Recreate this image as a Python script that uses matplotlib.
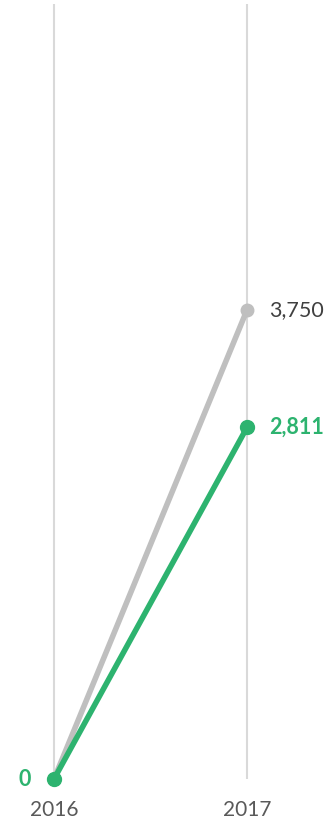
import matplotlib.pyplot as plt

# slope chart: two series, 2016 -> 2017
years = ["2016", "2017"]
target = [0, 3750]
actual = [0, 2811]

GREY = "#bfbfbf"
GREEN = "#2db36f"
GRID = "#d9d9d9"
TEXT = "#595959"

plt.rcParams["font.family"] = ["Lato", "DejaVu Sans"]

fig = plt.figure(figsize=(3.24, 8.24), dpi=100)
ax = fig.add_axes([0, 0, 1, 1])

xs = list(range(len(years)))
grid_top = 6195

ax.vlines(xs, 0, grid_top, color=GRID, linewidth=1.5, zorder=0)

ax.plot(xs, target, color=GREY, linewidth=4, marker="o", markersize=9,
        solid_capstyle="round", zorder=2)
ax.plot(xs, actual, color=GREEN, linewidth=4, marker="o", markersize=10,
        solid_capstyle="round", zorder=3)

# end-point value labels
ax.annotate(f"{target[-1]:,}", xy=(xs[-1], target[-1]), xytext=(16, 0),
            textcoords="offset points", ha="left", va="center",
            fontsize=15.5, color="#404040")
ax.annotate(f"{actual[-1]:,}", xy=(xs[-1], actual[-1]), xytext=(16, 0),
            textcoords="offset points", ha="left", va="center",
            fontsize=15.5, color=GREEN, fontweight="bold")
ax.annotate(f"{actual[0]:,}", xy=(xs[0], actual[0]), xytext=(-17, 0),
            textcoords="offset points", ha="right", va="center",
            fontsize=15.5, color=GREEN, fontweight="bold")

# year labels under each column
for x, yr in zip(xs, years):
    ax.annotate(yr, xy=(x, 0), xytext=(0, -15), textcoords="offset points",
                ha="center", va="top", fontsize=15, color=TEXT)

ax.set_xlim(-54 / 193, -54 / 193 + 324 / 193)
ymin = -45 / 0.12507
ax.set_ylim(ymin, ymin + 824 / 0.12507)
ax.axis("off")

fig.savefig("out.png", dpi=100, facecolor="white")
